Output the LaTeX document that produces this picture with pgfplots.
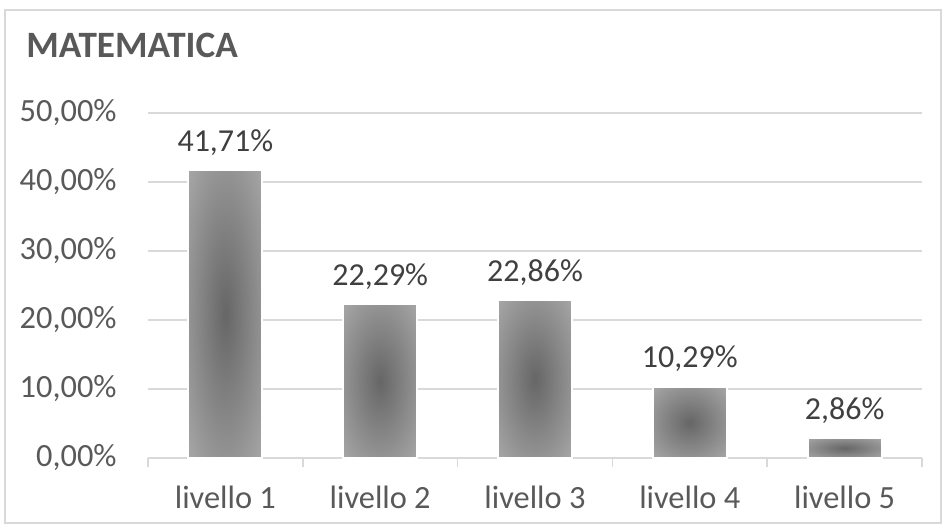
\documentclass[border=0pt]{standalone}
\usepackage{fontspec}
\setmainfont{Carlito}
\usepackage{pgfplots}
\pgfplotsset{compat=1.18}
\definecolor{txtgray}{HTML}{595959}
\definecolor{lblgray}{HTML}{404040}
\definecolor{gridgray}{HTML}{D9D9D9}
\definecolor{barcenter}{HTML}{666666}
\definecolor{baredge}{HTML}{A4A4A4}
\pgfdeclareradialshading{barshade}{\pgfpoint{0bp}{0bp}}{color(0bp)=(barcenter); color(34bp)=(baredge); color(50bp)=(baredge)}
\pgfplotsset{/pgf/number format/assume math mode=true,
    shadedbar/.style={ybar, bar width=0.478, bar shift=0pt, draw=white, line width=1pt,
        shading=barshade, shade,
        nodes near coords={\pgfmathprintnumber[fixed,fixed zerofill,precision=2,use comma]{\pgfplotspointmeta}\%},
        every node near coord/.append style={text=lblgray, anchor=base, yshift=9.5pt, inner sep=0pt,
            font=\fontsize{16}{19}\selectfont}}}
\begin{document}
\begin{tikzpicture}
\useasboundingbox (0,0) rectangle (473pt,264pt);
\draw[gridgray, line width=0.75pt] (2.5pt,2.5pt) rectangle (470.5pt,259pt);
\node[anchor=west, inner sep=0pt, text=txtgray, font=\fontsize{18.6}{22}\selectfont\bfseries] at (13pt,241.5pt) {MATEMATICA};
\begin{axis}[
    at={(74pt,35pt)}, anchor=south west,
    scale only axis, width=387pt, height=172.5pt,
    xmin=-0.5, xmax=4.5, ymin=0, ymax=50,
    axis x line*=bottom, axis y line*=left,
    x axis line style={gridgray, line width=0.75pt, -},
    y axis line style={draw=none},
    ytick={0,10,...,50},
    yticklabel={\pgfmathprintnumber[fixed,fixed zerofill,precision=2,use comma]{\tick}\%},
    ytick style={draw=none},
    xtick={-0.5,0.5,...,4.5},
    x tick label as interval,
    xticklabels={livello 1,livello 2,livello 3,livello 4,livello 5},
    xtick style={gridgray, line width=0.75pt},
    tick align=outside, major tick length=4.5pt,
    ymajorgrids, grid style={gridgray, line width=0.75pt},
    tick label style={text=txtgray, font=\fontsize{16.2}{19}\selectfont},
    yticklabel style={anchor=east, inner sep=0pt, xshift=-11pt},
    xticklabel style={anchor=base, inner sep=0pt, yshift=-21pt},
    clip=false,
]
\addplot[shadedbar] coordinates {(0,41.71)};
\addplot[shadedbar] coordinates {(1,22.29)};
\addplot[shadedbar] coordinates {(2,22.86)};
\addplot[shadedbar] coordinates {(3,10.29)};
\addplot[shadedbar] coordinates {(4,2.86)};
\end{axis}
\end{tikzpicture}
\end{document}
